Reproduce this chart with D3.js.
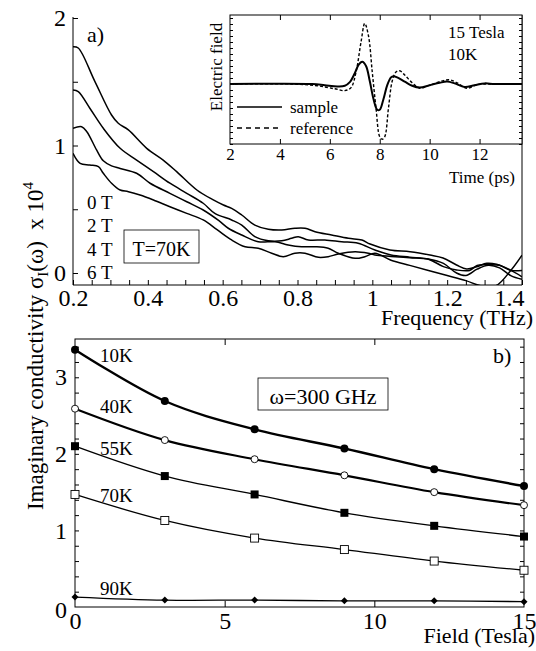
<!DOCTYPE html>
<html>
<head>
<meta charset="utf-8">
<script src="https://cdn.jsdelivr.net/npm/d3@7"></script>
<style>
body { margin: 0; background: #fff; }
svg text { font-family: "Liberation Serif", "Times New Roman", Times, serif !important; fill: #000; }
</style>
</head>
<body>
<svg id="chart" width="536" height="651"></svg>
<script>
// ---- panel a: sigma_I vs frequency at T=70K, [THz, sigma x 1e4]
const fieldLabels = ['0 T', '2 T', '4 T', '6 T'];
const sigma0T = [[0.200,1.775],[0.214,1.765],[0.258,1.505],[0.303,1.239],[0.321,1.174],[0.348,1.122],[0.397,0.978],[0.441,0.886],[0.477,0.795],[0.531,0.651],[0.575,0.573],[0.602,0.533],[0.624,0.507],[0.651,0.455],[0.686,0.376],[0.722,0.343],[0.758,0.337],[0.793,0.351],[0.820,0.351],[0.847,0.324],[0.891,0.298],[0.936,0.272],[0.972,0.259],[0.994,0.227],[1.047,0.180],[1.101,0.167],[1.154,0.141],[1.189,0.118],[1.225,0.063],[1.252,0.031],[1.279,0.049],[1.306,0.076],[1.332,0.068],[1.368,0.024],[1.400,-0.030]];
const sigma2T = [[0.200,1.435],[0.214,1.422],[0.245,1.292],[0.281,1.135],[0.326,0.978],[0.370,0.886],[0.415,0.795],[0.459,0.704],[0.504,0.625],[0.548,0.547],[0.579,0.468],[0.624,0.416],[0.651,0.376],[0.686,0.285],[0.722,0.253],[0.758,0.253],[0.784,0.272],[0.802,0.285],[0.829,0.259],[0.873,0.259],[0.918,0.245],[0.962,0.233],[1.007,0.180],[1.050,0.141],[1.100,0.124],[1.150,0.108],[1.190,0.050],[1.225,0.024],[1.260,0.020],[1.280,0.060],[1.310,0.064],[1.340,0.060],[1.370,0.020],[1.400,0.020]];
const sigma4T = [[0.200,1.135],[0.223,1.147],[0.237,1.108],[0.263,0.965],[0.281,0.880],[0.303,0.840],[0.326,0.820],[0.370,0.782],[0.406,0.704],[0.459,0.625],[0.504,0.559],[0.548,0.494],[0.590,0.410],[0.615,0.351],[0.651,0.298],[0.695,0.245],[0.740,0.245],[0.775,0.220],[0.811,0.206],[0.847,0.206],[0.882,0.194],[0.909,0.155],[0.954,0.115],[0.980,0.128],[1.007,0.155],[1.050,0.100],[1.100,0.060],[1.150,0.020],[1.200,-0.020],[1.250,-0.060],[1.290,-0.100],[1.330,-0.100],[1.370,0.020],[1.400,0.140]];
const sigma6T = [[0.200,0.939],[0.219,0.860],[0.245,0.847],[0.268,0.834],[0.281,0.782],[0.303,0.704],[0.326,0.651],[0.348,0.638],[0.379,0.612],[0.415,0.573],[0.459,0.520],[0.504,0.468],[0.548,0.416],[0.585,0.340],[0.624,0.259],[0.660,0.206],[0.695,0.194],[0.731,0.155],[0.762,0.128],[0.793,0.155],[0.820,0.155],[0.856,0.123],[0.882,0.128],[0.909,0.149],[0.954,0.167],[0.989,0.155],[1.007,0.141],[1.050,0.130],[1.100,0.120],[1.150,0.110],[1.190,0.075],[1.225,0.000],[1.250,-0.020],[1.280,0.030],[1.310,0.060],[1.340,0.040],[1.370,-0.020],[1.400,-0.050]];
const freqTicks = [0.2, 0.4, 0.6, 0.8, 1, 1.2, 1.4];
const freqMinor = d3.range(0.2, 1.401, 0.05);
const sigmaATicks = [0, 1, 2];

// ---- inset: time traces at 15 Tesla, 10K, [ps, field a.u.]
const sampleTrace = [[2,0],[5.3,0],[5.8,-0.02],[6.3,-0.04],[6.6,-0.03],[6.8,0.03],[7.0,0.18],[7.15,0.32],[7.3,0.37],[7.45,0.30],[7.6,0.05],[7.75,-0.25],[7.9,-0.43],[8.0,-0.43],[8.15,-0.25],[8.3,-0.02],[8.45,0.11],[8.55,0.13],[8.7,0.11],[9.0,0.04],[9.3,-0.03],[9.6,-0.06],[10.0,-0.02],[10.4,0.02],[10.7,0.04],[11.0,0.01],[11.4,-0.05],[11.8,-0.02],[12.2,0.01],[12.6,0],[13.7,0]];
const referenceTrace = [[2,0],[4.5,0],[5.5,-0.03],[6.2,-0.08],[6.6,-0.11],[6.85,-0.06],[7.05,0.20],[7.25,0.70],[7.4,1.01],[7.55,0.80],[7.7,0.20],[7.85,-0.40],[8.0,-0.88],[8.1,-0.92],[8.2,-0.88],[8.35,-0.40],[8.5,0.05],[8.65,0.20],[8.8,0.22],[9.0,0.15],[9.3,0.02],[9.6,-0.07],[10.0,-0.02],[10.5,0.05],[10.8,0.07],[11.1,0.02],[11.5,-0.07],[11.9,-0.01],[12.5,0],[13.7,0]];
const timeTicks = [2, 4, 6, 8, 10, 12];

// ---- panel b: sigma_I at 300 GHz vs field
const fieldValues = [0, 3, 6, 9, 12, 15];
const tempLabels = ['10K', '40K', '55K', '70K', '90K'];
const sigma10K = [3.36, 2.69, 2.32, 2.07, 1.80, 1.58];
const sigma40K = [2.59, 2.18, 1.93, 1.72, 1.50, 1.33];
const sigma55K = [2.10, 1.71, 1.47, 1.23, 1.06, 0.92];
const sigma70K = [1.47, 1.13, 0.90, 0.75, 0.60, 0.48];
const sigma90K = [0.13, 0.09, 0.09, 0.08, 0.08, 0.07];
const fieldTicks = [0, 5, 10, 15];
const sigmaBTicks = [0, 1, 2, 3];

const svg = d3.select('#chart');
const fmt = d3.format('~g');

function cleanAxis(g, size) {
    g.attr('font-family', null).attr('font-size', null);
    g.select('.domain').remove();
    g.selectAll('text').style('font-size', size + 'px');
    return g;
}

function frame(x0, y0, x1, y1) {
    svg.append('rect')
        .attr('x', x0).attr('y', y0)
        .attr('width', x1 - x0).attr('height', y1 - y0)
        .attr('fill', 'none').attr('stroke', '#000').attr('stroke-width', 1);
}

// ================= panel a =================
const xA = d3.scaleLinear().domain([0.2, 1.4]).range([73, 522]);
const yA = d3.scaleLinear().domain([0, 2]).range([273, 18]);

svg.append('clipPath').attr('id', 'clipA')
    .append('rect').attr('x', 73).attr('y', 15).attr('width', 449).attr('height', 270);

const lineA = d3.line()
    .x(d => xA(d[0]))
    .y(d => yA(d[1]))
    .curve(d3.curveCatmullRom.alpha(0.5));

svg.append('g').attr('clip-path', 'url(#clipA)')
    .selectAll('path')
    .data([sigma0T, sigma2T, sigma4T, sigma6T])
    .join('path')
    .attr('d', lineA)
    .attr('fill', 'none')
    .attr('stroke', '#000')
    .attr('stroke-width', 1.5);

// left, bottom, right borders
svg.append('path').attr('d', 'M73,17V285H522V15')
    .attr('fill', 'none').attr('stroke', '#000');

cleanAxis(svg.append('g').attr('transform', 'translate(0,285)')
    .call(d3.axisBottom(xA).tickValues(freqMinor).tickSize(-5).tickFormat('')), 24);
cleanAxis(svg.append('g').attr('transform', 'translate(73,0)')
    .call(d3.axisLeft(yA).tickValues(d3.range(0, 2.01, 0.5)).tickSize(-5).tickFormat('')), 24);

const xALabels = cleanAxis(svg.append('g').attr('transform', 'translate(0,285)')
    .call(d3.axisBottom(xA).tickValues(freqTicks).tickSize(0).tickPadding(4).tickFormat(fmt)), 24);
xALabels.selectAll('text').filter(d => d === 1.4).attr('text-anchor', 'end').attr('x', 2);

cleanAxis(svg.append('g').attr('transform', 'translate(73,0)')
    .call(d3.axisLeft(yA).tickValues(sigmaATicks).tickSize(0).tickPadding(7).tickFormat(fmt)), 24);

svg.append('text').attr('x', 533).attr('y', 325)
    .attr('text-anchor', 'end').style('font-size', '22px').text('Frequency (THz)');

svg.append('text').attr('x', 87).attr('y', 42).style('font-size', '22px').text('a)');

svg.selectAll('.field-label')
    .data(fieldLabels)
    .join('text')
    .attr('class', 'field-label')
    .attr('x', 87)
    .attr('y', (d, i) => 209 + i * 23.4)
    .style('font-size', '19px')
    .text(d => d);

svg.append('rect').attr('x', 124).attr('y', 230).attr('width', 75).attr('height', 33)
    .attr('fill', '#fff').attr('stroke', '#000').attr('stroke-width', 0.8);
svg.append('text').attr('x', 161.5).attr('y', 256).attr('text-anchor', 'middle')
    .style('font-size', '20px').text('T=70K');

// ================= inset =================
const xI = d3.scaleLinear().domain([2, 13.7]).range([230, 522]);
const yI = d3.scaleLinear().domain([-1, 1.15]).range([144, 15]);

svg.append('rect').attr('x', 230).attr('y', 15).attr('width', 292).attr('height', 129)
    .attr('fill', '#fff').attr('stroke', '#000').attr('stroke-width', 1);

cleanAxis(svg.append('g').attr('transform', 'translate(0,144)')
    .call(d3.axisBottom(xI).tickValues([4, 6, 8, 10, 12]).tickSize(-5).tickFormat('')), 17);
cleanAxis(svg.append('g').attr('transform', 'translate(0,15)')
    .call(d3.axisTop(xI).tickValues([4, 6, 8, 10, 12]).tickSize(-5).tickFormat('')), 17);
cleanAxis(svg.append('g').attr('transform', 'translate(230,0)')
    .call(d3.axisLeft(yI).tickValues(d3.range(-1, 1.15, 0.1)).tickSize(-3).tickFormat('')), 17);
cleanAxis(svg.append('g').attr('transform', 'translate(522,0)')
    .call(d3.axisRight(yI).tickValues(d3.range(-1, 1.15, 0.1)).tickSize(-3).tickFormat('')), 17);

cleanAxis(svg.append('g').attr('transform', 'translate(0,144)')
    .call(d3.axisBottom(xI).tickValues(timeTicks).tickSize(0).tickPadding(4).tickFormat(fmt)), 17);

const lineI = d3.line()
    .x(d => xI(d[0]))
    .y(d => yI(d[1]))
    .curve(d3.curveCatmullRom.alpha(0.5));

svg.append('path').datum(referenceTrace).attr('d', lineI)
    .attr('fill', 'none').attr('stroke', '#000').attr('stroke-width', 1.4)
    .attr('stroke-dasharray', '3,2');
svg.append('path').datum(sampleTrace).attr('d', lineI)
    .attr('fill', 'none').attr('stroke', '#000').attr('stroke-width', 2);

// legend of inset
svg.append('line').attr('x1', 237).attr('x2', 282).attr('y1', 107).attr('y2', 107)
    .attr('stroke', '#000').attr('stroke-width', 1.6);
svg.append('line').attr('x1', 237).attr('x2', 282).attr('y1', 128).attr('y2', 128)
    .attr('stroke', '#000').attr('stroke-width', 1.4).attr('stroke-dasharray', '5,4');
svg.append('text').attr('x', 290).attr('y', 113).style('font-size', '17px').text('sample');
svg.append('text').attr('x', 290).attr('y', 134).style('font-size', '17px').text('reference');

svg.append('text').attr('x', 448).attr('y', 38).style('font-size', '17px').text('15 Tesla');
svg.append('text').attr('x', 448).attr('y', 60).style('font-size', '17px').text('10K');
svg.append('text').attr('x', 515).attr('y', 183).attr('text-anchor', 'end')
    .style('font-size', '17px').text('Time (ps)');
svg.append('text').attr('transform', 'translate(222,67) rotate(-90)')
    .attr('text-anchor', 'middle').style('font-size', '17px').text('Electric field');

// ================= panel b =================
const xB = d3.scaleLinear().domain([0, 15]).range([75, 524]);
const yB = d3.scaleLinear().domain([0, 3.5]).range([607, 339]);

frame(75, 339, 524, 607);

cleanAxis(svg.append('g').attr('transform', 'translate(0,607)')
    .call(d3.axisBottom(xB).tickValues([5, 10]).tickSize(-6).tickFormat('')), 24);
cleanAxis(svg.append('g').attr('transform', 'translate(0,339)')
    .call(d3.axisTop(xB).tickValues([5, 10]).tickSize(-6).tickFormat('')), 24);
cleanAxis(svg.append('g').attr('transform', 'translate(75,0)')
    .call(d3.axisLeft(yB).tickValues(d3.range(0.2, 3.5, 0.2)).tickSize(-4).tickFormat('')), 24);
cleanAxis(svg.append('g').attr('transform', 'translate(524,0)')
    .call(d3.axisRight(yB).tickValues(d3.range(0.2, 3.5, 0.2)).tickSize(-4).tickFormat('')), 24);

const xBLabels = cleanAxis(svg.append('g').attr('transform', 'translate(0,607)')
    .call(d3.axisBottom(xB).tickValues(fieldTicks).tickSize(0).tickPadding(5).tickFormat(fmt)), 24);
xBLabels.selectAll('text').filter(d => d === 15).attr('text-anchor', 'end').attr('x', 12);

const yBLabels = cleanAxis(svg.append('g').attr('transform', 'translate(75,0)')
    .call(d3.axisLeft(yB).tickValues(sigmaBTicks).tickSize(0).tickPadding(8).tickFormat(fmt)), 24);
yBLabels.selectAll('text').filter(d => d === 0).attr('dy', '0.45em');

const seriesB = [
    { values: sigma10K, width: 2.4, marker: 'circleFilled' },
    { values: sigma40K, width: 2.2, marker: 'circleOpen' },
    { values: sigma55K, width: 1.3, marker: 'squareFilled' },
    { values: sigma70K, width: 1.3, marker: 'squareOpen' },
    { values: sigma90K, width: 1.3, marker: 'diamond' }
];

const lineB = d3.line()
    .x((d, i) => xB(fieldValues[i]))
    .y(d => yB(d))
    .curve(d3.curveCatmullRom.alpha(0.5));

seriesB.forEach(s => {
    svg.append('path').datum(s.values).attr('d', lineB)
        .attr('fill', 'none').attr('stroke', '#000').attr('stroke-width', s.width);

    const g = svg.append('g');
    const pts = g.selectAll('g').data(s.values).join('g')
        .attr('transform', (d, i) => `translate(${xB(fieldValues[i])},${yB(d)})`);

    if (s.marker === 'circleFilled') {
        pts.append('circle').attr('r', 4).attr('fill', '#000');
    } else if (s.marker === 'circleOpen') {
        pts.append('circle').attr('r', 3.5).attr('fill', '#fff').attr('stroke', '#000').attr('stroke-width', 0.9);
    } else if (s.marker === 'squareFilled') {
        pts.append('rect').attr('x', -4).attr('y', -4).attr('width', 8).attr('height', 8).attr('fill', '#000');
    } else if (s.marker === 'squareOpen') {
        pts.append('rect').attr('x', -4).attr('y', -4).attr('width', 8).attr('height', 8)
            .attr('fill', '#fff').attr('stroke', '#000').attr('stroke-width', 0.9);
    } else {
        pts.append('path').attr('d', 'M0,-3.5L3.5,0L0,3.5L-3.5,0Z').attr('fill', '#000');
    }
});

const tempLabelY = [362, 413, 455, 502, 595];
svg.selectAll('.temp-label')
    .data(tempLabels)
    .join('text')
    .attr('class', 'temp-label')
    .attr('x', 100)
    .attr('y', (d, i) => tempLabelY[i])
    .style('font-size', '19px')
    .text(d => d);

svg.append('text').attr('x', 493).attr('y', 363).style('font-size', '22px').text('b)');

svg.append('rect').attr('x', 258).attr('y', 378).attr('width', 130).attr('height', 32)
    .attr('fill', '#fff').attr('stroke', '#000').attr('stroke-width', 0.8);
svg.append('text').attr('x', 323).attr('y', 404).attr('text-anchor', 'middle')
    .style('font-size', '22px').text('ω=300 GHz');

svg.append('text').attr('x', 535).attr('y', 643).attr('text-anchor', 'end')
    .style('font-size', '22px').text('Field (Tesla)');

// shared y title
const yTitle = svg.append('text')
    .attr('transform', 'translate(43,346) rotate(-90)')
    .attr('text-anchor', 'middle')
    .style('font-size', '23px');
yTitle.append('tspan').text('Imaginary conductivity σ');
yTitle.append('tspan').attr('dy', 5).style('font-size', '15px').text('I');
yTitle.append('tspan').attr('dy', -5).text('(ω)\u00a0\u00a0x 10');
yTitle.append('tspan').attr('dy', -10).style('font-size', '15px').text('4');
</script>
</body>
</html>
